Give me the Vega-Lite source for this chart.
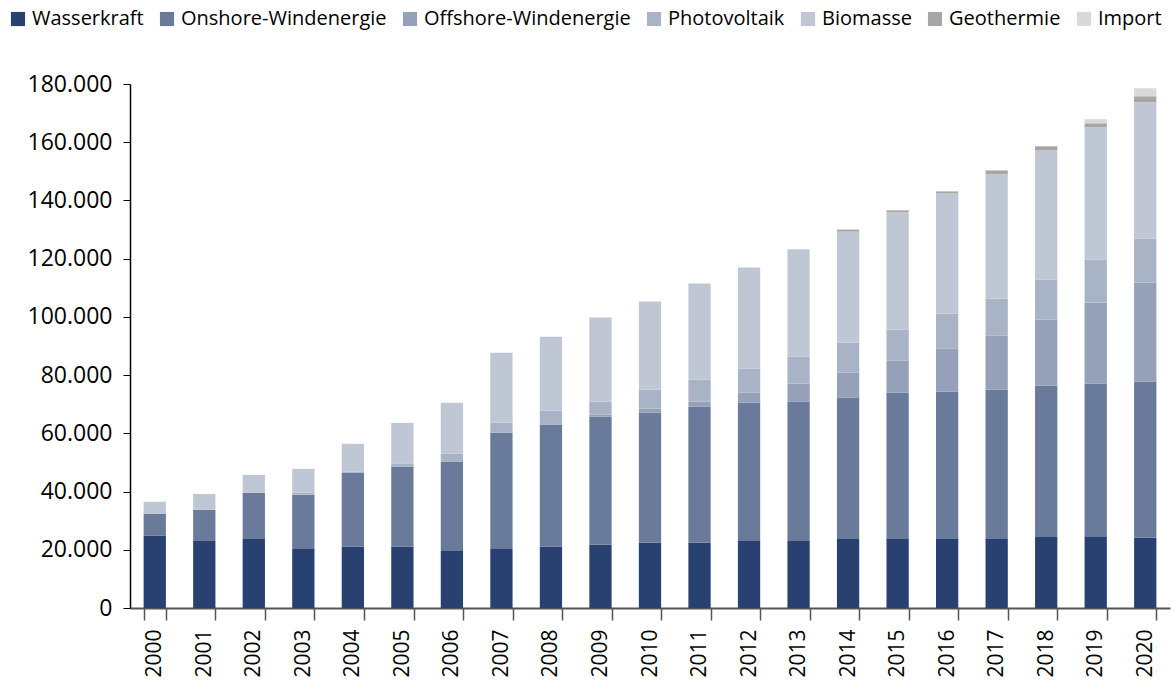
{
  "$schema": "https://vega.github.io/schema/vega-lite/v6.json",
  "width": 1040,
  "height": 524,
  "autosize": {"type": "none"},
  "padding": {"left": 130, "top": 84, "right": 3, "bottom": 76},
  "background": "white",
  "config": {
    "view": {"stroke": null},
    "font": "Open Sans"
  },
  "datasets": {
    "rang": [
      {"Quelle": "Wasserkraft", "Rang": 1},
      {"Quelle": "Onshore-Windenergie", "Rang": 2},
      {"Quelle": "Offshore-Windenergie", "Rang": 3},
      {"Quelle": "Photovoltaik", "Rang": 4},
      {"Quelle": "Biomasse", "Rang": 5},
      {"Quelle": "Geothermie", "Rang": 6},
      {"Quelle": "Import", "Rang": 7}
    ]
  },
  "data": {
    "values": [
      {"Jahr": "2000", "Wasserkraft": 24800, "Onshore-Windenergie": 7500, "Offshore-Windenergie": 0, "Photovoltaik": 0, "Biomasse": 4200, "Geothermie": 0, "Import": 0},
      {"Jahr": "2001", "Wasserkraft": 23000, "Onshore-Windenergie": 10700, "Offshore-Windenergie": 0, "Photovoltaik": 0, "Biomasse": 5500, "Geothermie": 0, "Import": 0},
      {"Jahr": "2002", "Wasserkraft": 23700, "Onshore-Windenergie": 15900, "Offshore-Windenergie": 0, "Photovoltaik": 0, "Biomasse": 6100, "Geothermie": 0, "Import": 0},
      {"Jahr": "2003", "Wasserkraft": 20300, "Onshore-Windenergie": 18600, "Offshore-Windenergie": 0, "Photovoltaik": 700, "Biomasse": 8200, "Geothermie": 0, "Import": 0},
      {"Jahr": "2004", "Wasserkraft": 21000, "Onshore-Windenergie": 25400, "Offshore-Windenergie": 0, "Photovoltaik": 500, "Biomasse": 9500, "Geothermie": 0, "Import": 0},
      {"Jahr": "2005", "Wasserkraft": 21000, "Onshore-Windenergie": 27500, "Offshore-Windenergie": 0, "Photovoltaik": 1000, "Biomasse": 14100, "Geothermie": 0, "Import": 0},
      {"Jahr": "2006", "Wasserkraft": 19600, "Onshore-Windenergie": 30600, "Offshore-Windenergie": 0, "Photovoltaik": 2800, "Biomasse": 17500, "Geothermie": 0, "Import": 0},
      {"Jahr": "2007", "Wasserkraft": 20300, "Onshore-Windenergie": 39900, "Offshore-Windenergie": 0, "Photovoltaik": 3400, "Biomasse": 24100, "Geothermie": 0, "Import": 0},
      {"Jahr": "2008", "Wasserkraft": 21000, "Onshore-Windenergie": 42000, "Offshore-Windenergie": 0, "Photovoltaik": 4800, "Biomasse": 25400, "Geothermie": 0, "Import": 0},
      {"Jahr": "2009", "Wasserkraft": 21700, "Onshore-Windenergie": 44000, "Offshore-Windenergie": 700, "Photovoltaik": 4500, "Biomasse": 28900, "Geothermie": 0, "Import": 0},
      {"Jahr": "2010", "Wasserkraft": 22400, "Onshore-Windenergie": 44700, "Offshore-Windenergie": 1400, "Photovoltaik": 6500, "Biomasse": 30300, "Geothermie": 0, "Import": 0},
      {"Jahr": "2011", "Wasserkraft": 22400, "Onshore-Windenergie": 46700, "Offshore-Windenergie": 1800, "Photovoltaik": 7500, "Biomasse": 33100, "Geothermie": 0, "Import": 0},
      {"Jahr": "2012", "Wasserkraft": 23000, "Onshore-Windenergie": 47500, "Offshore-Windenergie": 3500, "Photovoltaik": 8200, "Biomasse": 34800, "Geothermie": 0, "Import": 0},
      {"Jahr": "2013", "Wasserkraft": 23000, "Onshore-Windenergie": 47900, "Offshore-Windenergie": 6200, "Photovoltaik": 9200, "Biomasse": 36900, "Geothermie": 0, "Import": 0},
      {"Jahr": "2014", "Wasserkraft": 23700, "Onshore-Windenergie": 48500, "Offshore-Windenergie": 8600, "Photovoltaik": 10400, "Biomasse": 38100, "Geothermie": 700, "Import": 0},
      {"Jahr": "2015", "Wasserkraft": 23700, "Onshore-Windenergie": 50300, "Offshore-Windenergie": 11000, "Photovoltaik": 10600, "Biomasse": 40300, "Geothermie": 700, "Import": 0},
      {"Jahr": "2016", "Wasserkraft": 23700, "Onshore-Windenergie": 50600, "Offshore-Windenergie": 14800, "Photovoltaik": 12000, "Biomasse": 41300, "Geothermie": 700, "Import": 0},
      {"Jahr": "2017", "Wasserkraft": 23700, "Onshore-Windenergie": 51300, "Offshore-Windenergie": 18600, "Photovoltaik": 12700, "Biomasse": 42700, "Geothermie": 1300, "Import": 0},
      {"Jahr": "2018", "Wasserkraft": 24400, "Onshore-Windenergie": 52000, "Offshore-Windenergie": 22700, "Photovoltaik": 13700, "Biomasse": 44400, "Geothermie": 1400, "Import": 0},
      {"Jahr": "2019", "Wasserkraft": 24400, "Onshore-Windenergie": 52700, "Offshore-Windenergie": 27800, "Photovoltaik": 14800, "Biomasse": 45400, "Geothermie": 1400, "Import": 1400},
      {"Jahr": "2020", "Wasserkraft": 24100, "Onshore-Windenergie": 53600, "Offshore-Windenergie": 34100, "Photovoltaik": 15100, "Biomasse": 46800, "Geothermie": 2100, "Import": 2700}
    ]
  },
  "transform": [
    {"fold": ["Wasserkraft", "Onshore-Windenergie", "Offshore-Windenergie", "Photovoltaik", "Biomasse", "Geothermie", "Import"], "as": ["Quelle", "Wert"]},
    {"lookup": "Quelle", "from": {"data": {"name": "rang"}, "key": "Quelle", "fields": ["Rang"]}}
  ],
  "mark": {"type": "bar"},
  "encoding": {
    "x": {
      "field": "Jahr",
      "type": "ordinal",
      "title": null,
      "scale": {"paddingInner": 0.55, "paddingOuter": 0.275},
      "axis": {
        "labelAngle": 270,
        "labelFontSize": 21,
        "labelColor": "#000000",
        "labelPadding": 9,
        "tickBand": "extent",
        "tickSize": 12,
        "tickColor": "#555555",
        "tickWidth": 1.5,
        "domainColor": "#555555",
        "domainWidth": 2
      }
    },
    "y": {
      "field": "Wert",
      "type": "quantitative",
      "stack": "zero",
      "title": null,
      "scale": {"domain": [0, 180000], "nice": false},
      "axis": {
        "values": [0, 20000, 40000, 60000, 80000, 100000, 120000, 140000, 160000, 180000],
        "labelExpr": "replace(format(datum.value, ','), ',', '.')",
        "labelFontSize": 23,
        "labelColor": "#000000",
        "labelPadding": 11,
        "tickSize": 7,
        "tickColor": "#000000",
        "domainColor": "#000000",
        "domainWidth": 1.5,
        "grid": false
      }
    },
    "color": {
      "field": "Quelle",
      "type": "nominal",
      "sort": ["Wasserkraft", "Onshore-Windenergie", "Offshore-Windenergie", "Photovoltaik", "Biomasse", "Geothermie", "Import"],
      "scale": {
        "domain": ["Wasserkraft", "Onshore-Windenergie", "Offshore-Windenergie", "Photovoltaik", "Biomasse", "Geothermie", "Import"],
        "range": ["#294171", "#6A7A9A", "#95A1B8", "#A9B3C6", "#C0C7D4", "#A6A6A6", "#D9D9D9"]
      },
      "legend": {
        "title": null,
        "orient": "none",
        "legendX": -122,
        "legendY": -75,
        "direction": "horizontal",
        "symbolType": "square",
        "symbolSize": 200,
        "symbolStrokeWidth": 0,
        "labelFontSize": 20,
        "labelColor": "#000000",
        "labelOffset": 4,
        "columnPadding": 13,
        "labelLimit": 300
      }
    },
    "order": {"field": "Rang", "type": "quantitative", "sort": "ascending"}
  }
}
